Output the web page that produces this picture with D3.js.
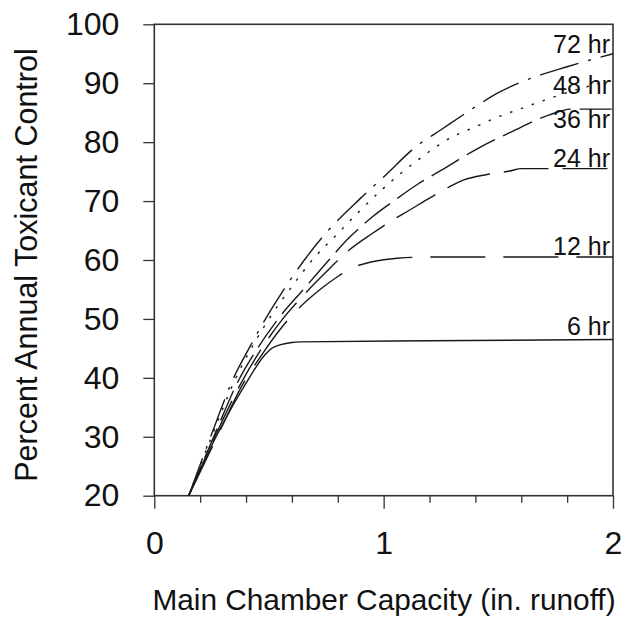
<!DOCTYPE html>
<html>
<head>
<meta charset="utf-8">
<script src="https://cdn.jsdelivr.net/npm/d3@7"></script>
<style>
  body { margin: 0; background: #fff; }
  svg { display: block; }
  text { font-family: "Liberation Sans", Arial, sans-serif; fill: #111; }
</style>
</head>
<body>
<svg id="chart"></svg>
<script>
var width = 625
var height = 628

// values: [capacity (in.), percent control]
var curve6 = [[0.15,20],[0.22,26.1],[0.30,32.3],[0.40,39.1],[0.48,43.8],[0.515,45.1],[0.6,46.0],[0.64,46.1],[1.2,46.3],[2.0,46.5]]
var curve12 = [[0.15,20],[0.28,30.5],[0.38,38.5],[0.47,44],[0.55,48.3],[0.63,51.8],[0.72,54.9],[0.80,57.2],[0.86,58.6],[0.95,59.7],[1.06,60.3],[1.2,60.5],[2.0,60.5]]
var curve24 = [[0.15,20],[0.27,30.5],[0.37,38.5],[0.46,44.5],[0.55,49.5],[0.65,54],[0.75,58],[0.85,61.7],[0.95,64.5],[1.04,66.8],[1.11,68.4],[1.2,70.5],[1.29,72.5],[1.35,73.6],[1.45,74.5],[1.55,75.1],[1.6,75.5],[2.0,75.5]]
var curve36 = [[0.15,20],[0.27,31],[0.36,39],[0.45,45],[0.55,50.5],[0.65,55],[0.75,59.5],[0.85,63.8],[0.95,67.3],[1.05,70.2],[1.15,72.9],[1.25,75.2],[1.4,78.7],[1.56,81.8],[1.72,84.6],[1.82,85.6],[2.0,85.6]]
var curve48 = [[0.15,20],[0.26,31],[0.35,39.5],[0.43,45.5],[0.5,50],[0.6,55.5],[0.7,60.5],[0.8,64.5],[0.9,68.5],[1.0,72.2],[1.15,77],[1.3,80.9],[1.4,82.6],[1.5,84.3],[1.6,85.7],[1.7,87.1],[1.85,89],[2.0,90.5]]
var curve72 = [[0.15,20],[0.26,31.5],[0.34,39.5],[0.42,45.5],[0.5,51],[0.55,54.1],[0.66,60.3],[0.74,64.2],[0.9,70.5],[1.0,74.1],[1.14,79.2],[1.25,82.1],[1.4,86],[1.5,88.4],[1.6,90.2],[1.8,92.8],[2.0,95]]

var curveNames = ["6 hr", "12 hr", "24 hr", "36 hr", "48 hr", "72 hr"]
var curveData = [curve6, curve12, curve24, curve36, curve48, curve72]
var curveDash = ["none", "55,18", "45,14", "32,9", "2.5,9", "40,10,3,10"]
var labelBaseline = [335, 255, 167, 128, 94, 53]

var yTicks = [20, 30, 40, 50, 60, 70, 80, 90, 100]
var xTicks = [0, 1, 2]
var xMinorTicks = [0.2, 0.4, 0.6, 0.8, 1.2, 1.4, 1.6, 1.8]

var plotLeft = 154.3, plotRight = 613, plotTop = 24.3, plotBottom = 495.7

var svg = d3.select("#chart")
    .attr("width", width)
    .attr("height", height)

var x = d3.scaleLinear().domain([0, 2]).range([plotLeft, plotRight])
var y = d3.scaleLinear().domain([20, 100]).range([plotBottom, plotTop])

// minor ticks first so the major axis sits on top
svg.append("g")
    .attr("transform", "translate(0," + plotBottom + ")")
    .call(d3.axisBottom(x).tickValues(xMinorTicks).tickSize(7).tickFormat(""))
    .call(g => g.select(".domain").remove())

var xAxis = svg.append("g")
    .attr("transform", "translate(0," + plotBottom + ")")
    .call(d3.axisBottom(x).tickValues(xTicks).tickSize(13).tickPadding(23).tickFormat(d3.format("d")))
xAxis.select(".domain").remove()

var yAxis = svg.append("g")
    .attr("transform", "translate(" + plotLeft + ",0)")
    .call(d3.axisLeft(y).tickValues(yTicks).tickSize(11).tickPadding(24))
yAxis.select(".domain").remove()

svg.selectAll(".tick line").attr("stroke", "#333").attr("stroke-width", 1.3)
svg.selectAll(".tick text")
    .style("font-family", "'Liberation Sans', Arial, sans-serif")
    .style("font-size", "32px")
    .attr("fill", "#111")

// frame round the plot
svg.append("rect")
    .attr("x", plotLeft)
    .attr("y", plotTop)
    .attr("width", plotRight - plotLeft)
    .attr("height", plotBottom - plotTop)
    .attr("fill", "none")
    .attr("stroke", "#333")
    .attr("stroke-width", 1.6)

var line = d3.line()
    .x(d => x(d[0]))
    .y(d => y(d[1]))
    .curve(d3.curveMonotoneX)

curveData.forEach(function(pts, i) {
    svg.append("path")
        .attr("d", line(pts))
        .attr("fill", "none")
        .attr("stroke", "#1a1a1a")
        .attr("stroke-width", 1.4)
        .attr("stroke-dasharray", curveDash[i])

    svg.append("text")
        .attr("x", 610)
        .attr("y", labelBaseline[i])
        .attr("text-anchor", "end")
        .style("font-size", "25px")
        .text(curveNames[i])
})

// axis titles
svg.append("text")
    .attr("transform", "translate(37,265) rotate(-90)")
    .attr("text-anchor", "middle")
    .style("font-size", "30.5px")
    .text("Percent Annual Toxicant Control")

svg.append("text")
    .attr("x", 384)
    .attr("y", 610)
    .attr("text-anchor", "middle")
    .style("font-size", "29.8px")
    .text("Main Chamber Capacity (in. runoff)")
</script>
</body>
</html>
